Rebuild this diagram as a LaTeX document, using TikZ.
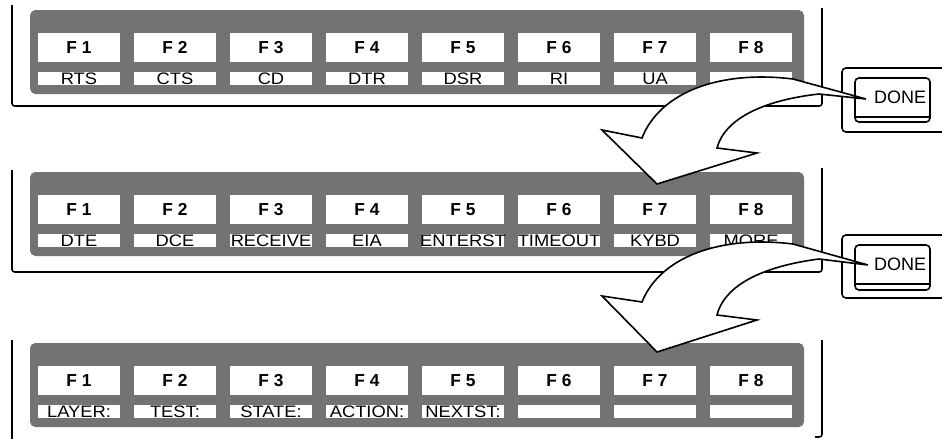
\documentclass[tikz,border=0pt]{standalone}
\usepackage{fontspec}
\setmainfont{Liberation Sans}
\tikzset{
  band/.style={fill=black!55, rounded corners=4pt},
  keybox/.style={fill=white},
  keytxt/.style={font=\fontsize{13}{13}\selectfont\bfseries, inner sep=0pt},
  labtxt/.style={font=\fontsize{12.5}{12.5}\selectfont, inner sep=0pt, xscale=1.1},
  frame/.style={line width=1.2pt, rounded corners=2pt},
  bigarrow/.style={draw, fill=white, line width=1.2pt, line join=miter},
  donebtn/.style={draw, line width=1.2pt, rounded corners=3pt},
  donetxt/.style={font=\fontsize{13.5}{13.5}\selectfont, inner sep=0pt}
}
\newcommand\fkpanel[3]{%
  \fill[band] (30,#2) rectangle (804,#2+84);
  \foreach \i/\lab in {#3} {
    \pgfmathsetmacro\xl{38+96*(\i-1)}
    \fill[keybox] (\xl,#2+23) rectangle ++(82,29);
    \node[keytxt] (#1k\i) at (\xl+41,#2+37.5) {F~\i};
    \fill[keybox] (\xl,#2+62) rectangle ++(82,13);
    \node[labtxt] (#1l\i) at (\xl+41,#2+68.5) {\lab};
  }
}
\begin{document}
\begin{tikzpicture}[x=0.75pt,y=-0.75pt]
\useasboundingbox (0,0) rectangle (942,439);

% frames
\draw[frame] (12,5) -- (12,106) -- (822,106) -- (822,8);
\draw[frame] (12,170) -- (12,272) -- (822,272) -- (822,168);
\draw[frame] (12,340) -- (12,439);
\draw[frame] (822,340) -- (822,437) -- (815,437);

% panels
\fkpanel{a}{10}{1/RTS,2/CTS,3/CD,4/DTR,5/DSR,6/RI,7/UA,8/{}}
\fkpanel{b}{172}{1/DTE,2/DCE,3/RECEIVE,4/EIA,5/ENTERST,6/TIMEOUT,7/KYBD,8/MORE}
\fkpanel{c}{343}{1/LAYER:,2/TEST:,3/STATE:,4/ACTION:,5/NEXTST:,6/{},7/{},8/{}}

% DONE buttons
\draw[donebtn] (943,68) -- (842,68) -- (842,132) -- (943,132);
\draw[donebtn] (855,78) rectangle (930,122);
\draw[line width=1.2pt] (856,117) -- (929,117);
\node[donetxt] (done1) at (900,97) {DONE};

\draw[donebtn] (943,235) -- (842,235) -- (842,298) -- (943,298);
\draw[donebtn] (855,245) rectangle (930,290);
\draw[line width=1.2pt] (856,284) -- (929,284);
\node[donetxt] (done2) at (900,264) {DONE};

% big curved arrows
\coordinate (t1) at (866,99);
\coordinate (tip1) at (657,184);
\draw[bigarrow] (t1) -- (793,79) .. controls (720,70) and (660,92) .. (642,138)
  -- (602,130) -- (tip1) -- (757,153) -- (717,148)
  .. controls (725,118) and (765,100) .. (819,94) -- cycle;

\coordinate (t2) at (868,265);
\coordinate (tip2) at (657,352);
\draw[bigarrow] (t2) -- (793,244) .. controls (720,235) and (660,257) .. (642,302)
  -- (602,296) -- (tip2) -- (757,320) -- (717,315)
  .. controls (725,284) and (765,266) .. (819,259) -- cycle;
\end{tikzpicture}
\end{document}
